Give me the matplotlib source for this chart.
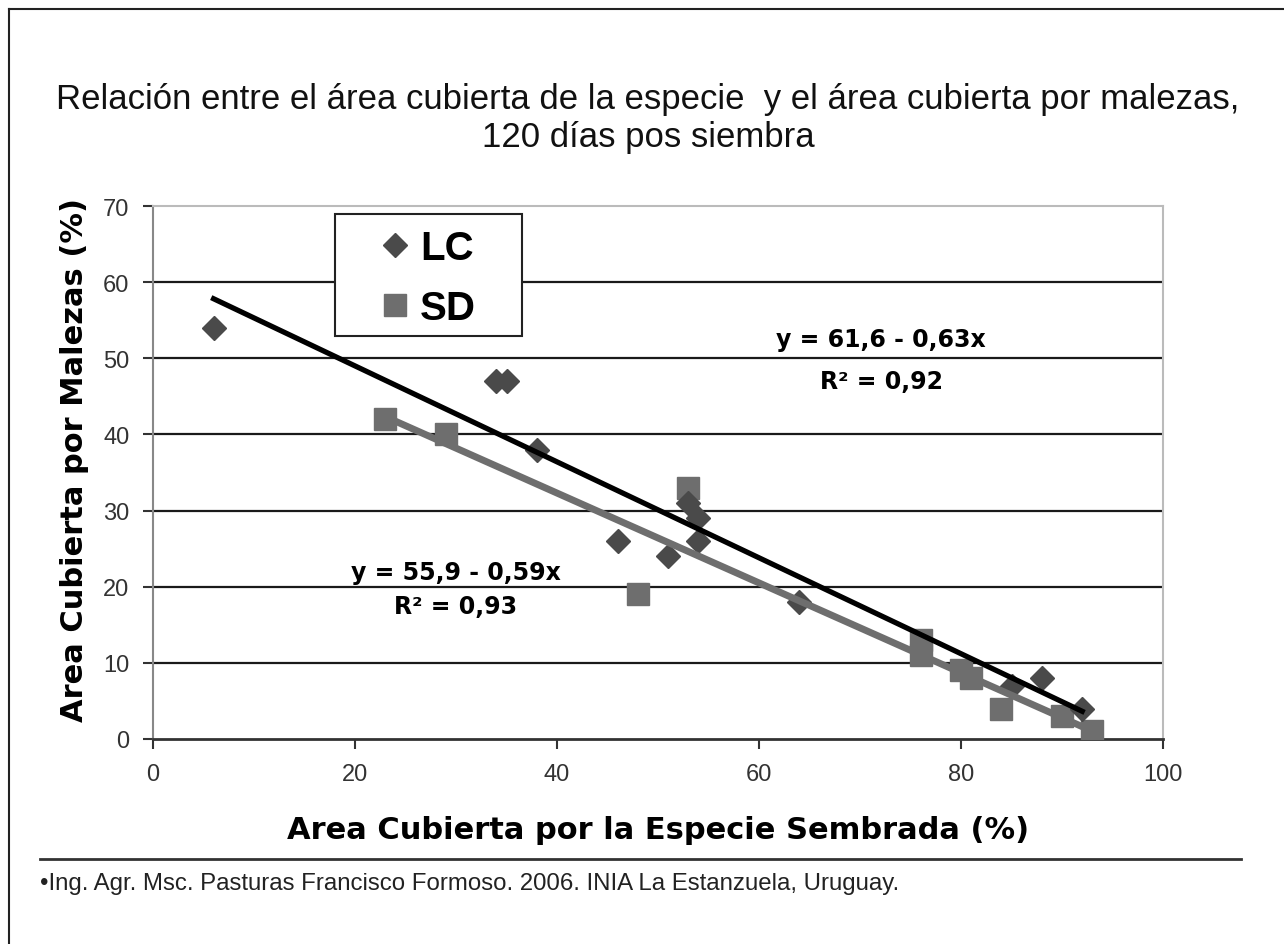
import numpy as np
import matplotlib
matplotlib.use("Agg")
import matplotlib.pyplot as plt
from matplotlib.lines import Line2D
from matplotlib.patches import Rectangle

plt.rcParams['font.family'] = ['Liberation Sans', 'DejaVu Sans']

# data
lc_x = [6, 34, 35, 38, 46, 51, 53, 54, 54, 64, 85, 88, 92]
lc_y = [54, 47, 47, 38, 26, 24, 31, 29, 26, 18, 7, 8, 4]
sd_x = [23, 29, 48, 53, 76, 76, 80, 81, 84, 90, 93]
sd_y = [42, 40, 19, 33, 13, 11, 9, 8, 4, 3, 1]

# trend lines as printed on the chart
lc_fit = (61.6, -0.63)
sd_fit = (55.9, -0.59)
lc_eq = ["y = 61,6 - 0,63x", "R² = 0,92"]
sd_eq = ["y = 55,9 - 0,59x", "R² = 0,93"]

x_ticks = [0, 20, 40, 60, 80, 100]
y_ticks = [0, 10, 20, 30, 40, 50, 60, 70]

fig = plt.figure(figsize=(12.84, 9.45), dpi=100)
ax = fig.add_axes([153/1284, 1-740/945, 1010/1284, 533/945])

for y in y_ticks[1:-1]:
    ax.axhline(y, color="#1a1a1a", lw=1.6, zorder=1)

lc_col = "#4a4a4a"
sd_col = "#6e6e6e"

ax.plot(sd_x, sd_y, "s", ms=16, color=sd_col, zorder=3)
ax.plot(lc_x, lc_y, "D", ms=12.5, color=lc_col, zorder=3)

xs = np.array([min(lc_x), max(lc_x)])
ax.plot(xs, lc_fit[0] + lc_fit[1]*xs, color="black", lw=3.8, zorder=4)
xs = np.array([min(sd_x), max(sd_x)])
ax.plot(xs, sd_fit[0] + sd_fit[1]*xs, color=sd_col, lw=5, zorder=4)

ax.set_xlim(0, 100)
ax.set_ylim(0, 70)
ax.set_xticks(x_ticks)
ax.set_yticks(y_ticks)
ax.tick_params(labelsize=17, colors="#333333", length=7, width=1.5, pad=10)
for s in ["top", "right"]:
    ax.spines[s].set_color("#bbbbbb")
    ax.spines[s].set_linewidth(1.5)
ax.spines["left"].set_color("#888888")
ax.spines["left"].set_linewidth(1.5)
ax.spines["bottom"].set_color("#333333")
ax.spines["bottom"].set_linewidth(2)

bold = ["DejaVu Sans"]
ax.set_xlabel("Area Cubierta por la Especie Sembrada (%)", fontsize=22,
              fontweight="bold", family=bold, labelpad=22)
ax.set_ylabel("Area Cubierta por Malezas (%)", fontsize=22,
              fontweight="bold", family=bold)
ax.yaxis.set_label_coords(-0.063, 0.525)

eq_kw = dict(ha="center", va="center", fontsize=17, fontweight="bold", family=bold)
ax.text(72.1, 52.5, lc_eq[0], **eq_kw)
ax.text(72.1, 47.0, lc_eq[1], **eq_kw)
ax.text(30.0, 21.9, sd_eq[0], **eq_kw)
ax.text(30.0, 17.5, sd_eq[1], **eq_kw)

# legend: entries from the library, frame drawn as a box
handles = [Line2D([], [], ls="", marker="D", ms=12.5, color=lc_col),
           Line2D([], [], ls="", marker="s", ms=16, color=sd_col)]
leg = ax.legend(handles, ["LC", "SD"], loc="upper left",
                bbox_to_anchor=((375-153)/1010, (740-230)/533),
                prop={"size": 29, "weight": "bold"}, frameon=False,
                handletextpad=0.12, borderpad=0, labelspacing=0.55,
                handlelength=1.0, borderaxespad=0)
ax.add_patch(Rectangle(((335-153)/1010, (740-337)/533), 187/1010, 122/533,
                       transform=ax.transAxes, facecolor="white",
                       edgecolor="#222222", lw=1.5, zorder=5))
leg.set_zorder(6)

title_kw = dict(ha="center", va="center", fontsize=25, color="#111111")
fig.text(648/1284, 1-100/945,
         "Relación entre el área cubierta de la especie  y el área cubierta por malezas,",
         **title_kw)
fig.text(648/1284, 1-138/945, "120 días pos siembra", **title_kw)

fig.add_artist(Line2D([40/1284, 1241/1284], [1-860/945, 1-860/945],
                      color="#333333", lw=2))
fig.text(40/1284, 1-884/945,
         "•Ing. Agr. Msc. Pasturas Francisco Formoso. 2006. INIA La Estanzuela, Uruguay.",
         ha="left", va="center", fontsize=17.3, color="#222222")

# page frame (left and top edges visible)
fig.add_artist(Line2D([9/1284, 9/1284], [0, 1-10/945], color="#222222", lw=1.5))
fig.add_artist(Line2D([9/1284, 1], [1-10/945, 1-10/945], color="#222222", lw=1.5))

fig.savefig("out.png", dpi=100)
